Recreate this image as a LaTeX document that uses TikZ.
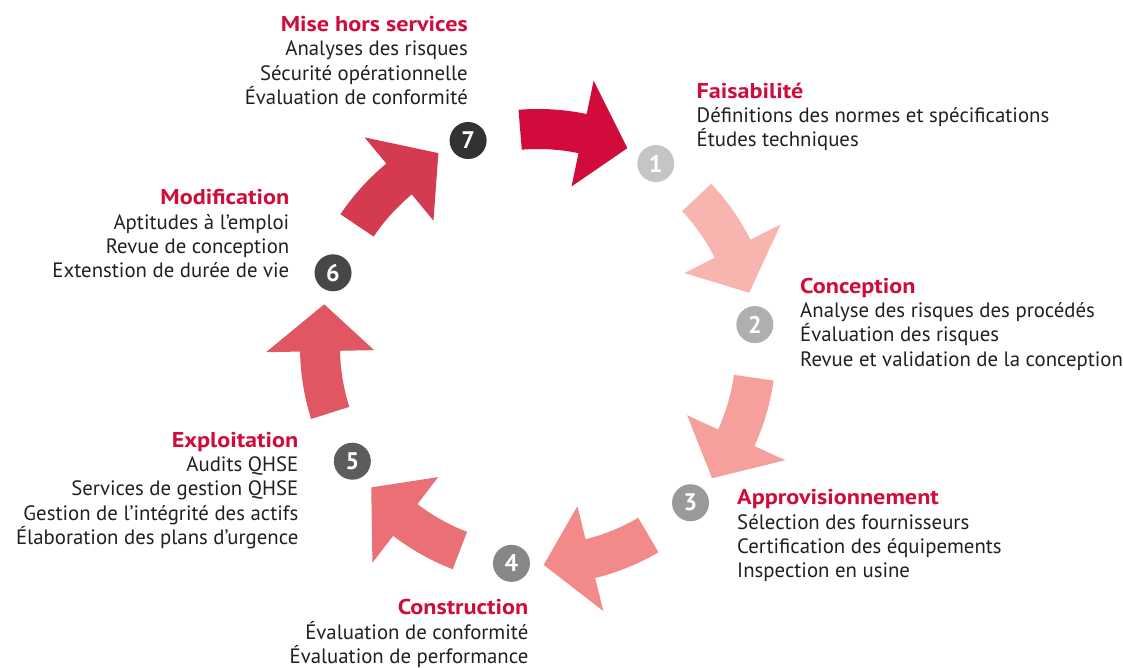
\documentclass[tikz,border=0pt]{standalone}
\usepackage{fontspec}
\setmainfont{PT Sans}
\newfontfamily\titlefont{PT Sans}[FakeStretch=1.13]
\usetikzlibrary{calc}

\definecolor{crimson}{HTML}{D00C3C}
\definecolor{ink}{HTML}{231F20}
% arrow colours, from light to dark
\definecolor{arrA}{HTML}{F8B5B0}
\definecolor{arrB}{HTML}{F5A09C}
\definecolor{arrC}{HTML}{F28A89}
\definecolor{arrD}{HTML}{EB7075}
\definecolor{arrE}{HTML}{E05663}
\definecolor{arrF}{HTML}{D43B51}
\definecolor{arrG}{HTML}{D10B3B}
% number discs
\definecolor{discA}{HTML}{C4C5C4}
\definecolor{discB}{HTML}{AFAFAF}
\definecolor{discC}{HTML}{9A9A9A}
\definecolor{discD}{HTML}{878787}
\definecolor{discE}{HTML}{5C5C5C}
\definecolor{discF}{HTML}{474747}
\definecolor{discG}{HTML}{323232}

% #1 name, #2 side (east/west), #3 position, #4 title, #5 lines
\newcommand\stage[5]{%
	\node[title,anchor=base #2] (#1) at (#3) {#4};
	\foreach \l [count=\i] in {#5}
		\node[body,anchor=base #2] (#1-\i) at ($(#1.base #2)+(0,-24.3*\i)$) {\l};
}

\begin{document}
\begin{tikzpicture}[x=1pt,y=1pt,
	num node/.style={circle,fill=#1,text=white,minimum size=37pt,inner sep=0pt,
		font=\fontsize{24}{24}\selectfont\bfseries},
	title/.style={text=crimson,inner sep=0pt,font=\fontsize{21.4}{24}\titlefont\bfseries},
	body/.style={text=ink,inner sep=0pt,font=\fontsize{20.8}{24}\selectfont}]

	\useasboundingbox (0,0) rectangle (1123,668);
	\coordinate (c) at (538,321);

	% curved block arrows round the cycle
	\begin{scope}[shift={(c)}]
	\foreach \a/\col [evaluate=\a as \t using \a-14,
			evaluate=\a as \b using \a-30.5,
			evaluate=\a as \p using \a-42.9]
		in {108.7/arrG,57.3/arrA,5.9/arrB,-45.6/arrC,-97.0/arrD,-148.4/arrE,-199.9/arrF}
		\fill[\col]
			(\t:238) arc[start angle=\t,end angle=\b,radius=238]
			-- (\b:272) -- (\p:218) -- (\b:164) -- (\b:198)
			arc[start angle=\b,end angle=\t,radius=198] -- cycle;
	\end{scope}

	% numbered discs
	\node[num node=discA] (n1) at ($(c)+(57.3:218)$) {1};
	\node[num node=discB] (n2) at ($(c)+(5.9:218)$) {2};
	\node[num node=discC] (n3) at ($(c)+(-45.6:218)$) {3};
	\node[num node=discD] (n4) at ($(c)+(-97.0:218)$) {4};
	\node[num node=discE] (n5) at ($(c)+(-148.4:218)$) {5};
	\node[num node=discF] (n6) at ($(c)+(160.1:218)$) {6};
	\node[num node=discG] (n7) at ($(c)+(108.7:218)$) {7};

	\stage{faisa}{west}{696.5,569.7}{Faisabilité}
		{Définitions des normes et spécifications,Études techniques}
	\stage{concep}{west}{800,374.7}{Conception}
		{Analyse des risques des procédés,Évaluation des risques,Revue et validation de la conception}
	\stage{appro}{west}{737,163}{Approvisionnement}
		{Sélection des fournisseurs,Certification des équipements,Inspection en usine}
	\stage{constr}{east}{528.5,53}{Construction}
		{Évaluation de conformité,Évaluation de performance}
	\stage{exploit}{east}{298.5,220.7}{Exploitation}
		{Audits QHSE,Services de gestion QHSE,Gestion de l’intégrité des actifs,Élaboration des plans d’urgence}
	\stage{modif}{east}{289.5,463}{Modification}
		{Aptitudes à l’emploi,Revue de conception,Extenstion de durée de vie}
	\stage{hors}{east}{468,636.3}{Mise hors services}
		{Analyses des risques,Sécurité opérationnelle,Évaluation de conformité}

\end{tikzpicture}
\end{document}
